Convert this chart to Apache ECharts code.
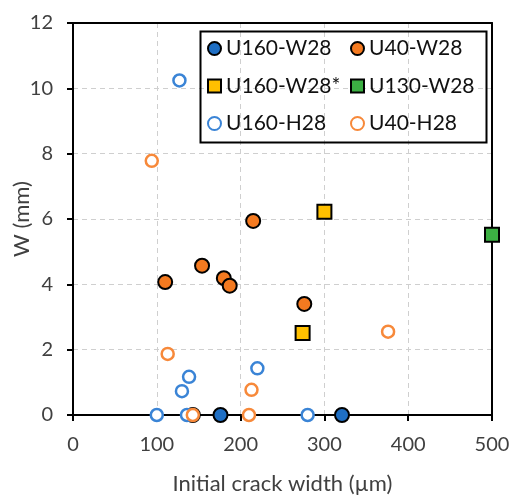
<!DOCTYPE html>
<html>
<head>
<meta charset="utf-8">
<script src="https://cdn.jsdelivr.net/npm/echarts@6/dist/echarts.min.js"></script>
<style>html,body{margin:0;padding:0;background:#fff}#c{width:511px;height:495px}</style>
</head>
<body>
<div id="c"></div>
<script>
// Data
var seriesNames = ['U160-W28', 'U40-W28', 'U160-W28*', 'U130-W28', 'U160-H28', 'U40-H28'];
var u160w28 = [[143, 0], [176, 0], [321, 0]];
var u40w28 = [[110, 4.07], [154, 4.57], [180, 4.19], [187, 3.96], [215, 5.94], [276, 3.40]];
var u160w28s = [[300, 6.22], [274, 2.51]];
var u130w28 = [[500, 5.52]];
var u160h28 = [[127, 10.24], [220, 1.43], [138.5, 1.17], [130, 0.73], [100, 0], [136, 0], [280, 0]];
var u40h28 = [[94, 7.78], [113, 1.87], [213, 0.77], [376, 2.55], [143, 0], [210, 0]];
var xTicks = [0, 100, 200, 300, 400, 500];
var yTicks = [0, 2, 4, 6, 8, 10, 12];

var FONT = 'Lato';
var TXT = '#404040';
var chart = echarts.init(document.getElementById('c'), null, {renderer: 'canvas'});

function filled(name, data, symbol, color) {
  return {
    name: name, type: 'scatter', data: data, symbol: symbol, symbolSize: 14,
    itemStyle: {color: color, borderColor: '#000', borderWidth: 2, opacity: 1}
  };
}
function hollow(name, data, color) {
  return {
    name: name, type: 'scatter', data: data, symbol: 'circle', symbolSize: 12,
    itemStyle: {color: '#fff', borderColor: color, borderWidth: 2.5, opacity: 1}
  };
}
var legendText = {fontFamily: FONT, fontSize: 21, color: '#111', lineHeight: 20};
var xMin = xTicks[0], xMax = xTicks[xTicks.length - 1];
var yMin = yTicks[0], yMax = yTicks[yTicks.length - 1];
var dash = {color: '#cfcfcf', width: 1, type: [5, 4]};
var blackLine = {color: '#000', width: 2};

chart.setOption({
  animation: false,
  grid: {left: 73, right: 19, top: 23, bottom: 80, containLabel: false, outerBoundsMode: 'none'},
  xAxis: [{
    type: 'value', min: xMin, max: xMax, interval: 100,
    name: 'Initial crack width (µm)', nameLocation: 'middle', nameGap: 58, nameMoveOverlap: false,
    nameTextStyle: {fontFamily: FONT, fontSize: 22, color: TXT},
    axisLine: {show: true, onZero: false, lineStyle: blackLine},
    axisTick: {show: true, length: 6, lineStyle: blackLine},
    axisLabel: {fontFamily: FONT, fontSize: 20, color: TXT, margin: 20},
    splitLine: {show: true, lineStyle: dash}
  }, {
    type: 'value', position: 'top', min: xMin, max: xMax, interval: 100,
    axisLine: {show: true, onZero: false, lineStyle: blackLine},
    axisTick: {show: false}, axisLabel: {show: false}, splitLine: {show: false}
  }],
  yAxis: [{
    type: 'value', min: yMin, max: yMax, interval: 2,
    name: 'W (mm)', nameLocation: 'middle', nameGap: 40, nameRotate: 90, nameMoveOverlap: false,
    nameTextStyle: {fontFamily: FONT, fontSize: 22, color: TXT},
    axisLine: {show: true, onZero: false, lineStyle: blackLine},
    axisTick: {show: true, length: 6, lineStyle: blackLine},
    axisLabel: {fontFamily: FONT, fontSize: 20, color: TXT, margin: 20},
    splitLine: {show: true, lineStyle: dash}
  }, {
    type: 'value', position: 'right', min: yMin, max: yMax, interval: 2,
    axisLine: {show: true, onZero: false, lineStyle: blackLine},
    axisTick: {show: false}, axisLabel: {show: false}, splitLine: {show: false}
  }],
  legend: [
    {data: [seriesNames[0], seriesNames[2], seriesNames[4]], orient: 'vertical', left: 207, top: 38,
     padding: 0, itemWidth: 13, itemHeight: 13, itemGap: 16.5, itemTextGap: 6, textStyle: legendText},
    {data: [seriesNames[1], seriesNames[3], seriesNames[5]], orient: 'vertical', left: 350, top: 38,
     padding: 0, itemWidth: 13, itemHeight: 13, itemGap: 16.5, itemTextGap: 6, textStyle: legendText}
  ],
  graphic: [{
    type: 'rect', left: 198, top: 29, z: 100,
    shape: {width: 286, height: 111},
    style: {fill: 'none', stroke: '#000', lineWidth: 2}
  }],
  series: [
    filled(seriesNames[0], u160w28, 'circle', '#1f6fc4'),
    filled(seriesNames[1], u40w28, 'circle', '#f47a20'),
    filled(seriesNames[2], u160w28s, 'rect', '#ffc000'),
    filled(seriesNames[3], u130w28, 'rect', '#3cb043'),
    hollow(seriesNames[4], u160h28, '#3a84d6'),
    hollow(seriesNames[5], u40h28, '#f7893a')
  ]
});
</script>
</body>
</html>
